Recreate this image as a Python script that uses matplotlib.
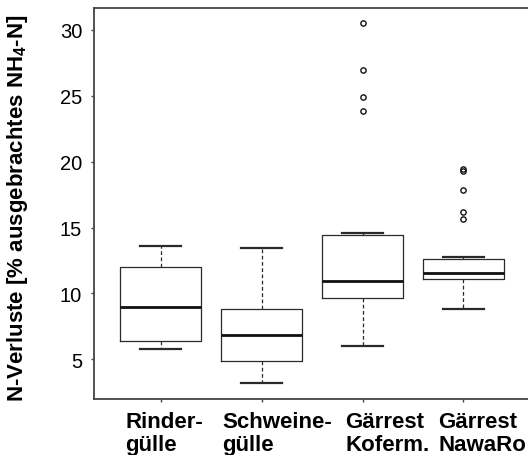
import numpy as np
import matplotlib
matplotlib.use("Agg")
import matplotlib.pyplot as plt

plt.rcParams['font.family'] = ['Liberation Sans', 'DejaVu Sans']
plt.rcParams['mathtext.fontset'] = 'custom'
plt.rcParams['mathtext.rm'] = 'Liberation Sans:bold'
plt.rcParams['mathtext.default'] = 'rm'

# Gruppen und Kennwerte der Boxplots (N-Verluste in % des NH4-N)
groups = ["Rinder-\ngülle", "Schweine-\ngülle", "Gärrest\nKoferm.", "Gärrest\nNawaRo"]
whisker_low = [5.76, 3.18, 6.02, 8.84]
q1 = [6.42, 4.90, 9.65, 11.09]
median = [8.99, 6.82, 10.94, 11.59]
q3 = [12.00, 8.82, 14.42, 12.65]
whisker_high = [13.61, 13.46, 14.62, 12.78]
outliers = [[], [], [23.82, 24.88, 26.95, 30.5], [15.66, 16.17, 17.86, 19.3, 19.45]]

# linke Kante der Achsenbeschriftung relativ zur Boxmitte
label_shift = [-0.348, -0.387, -0.169, -0.248]

stats = []
for i, name in enumerate(groups):
    stats.append(dict(label=name, whislo=whisker_low[i], q1=q1[i], med=median[i],
                      q3=q3[i], whishi=whisker_high[i], fliers=outliers[i]))

fig = plt.figure(figsize=(5.28, 4.56), dpi=100)
ax = fig.add_axes([0.178, 0.123, 0.826, 0.857])

pos = np.arange(1, len(groups) + 1)
line_col = '#2a2a2a'
ax.bxp(stats, positions=pos, widths=0.8, capwidths=0.4, showfliers=True,
       boxprops=dict(color=line_col, linewidth=0.9),
       medianprops=dict(color='#111111', linewidth=2.0),
       whiskerprops=dict(color=line_col, linewidth=0.9, linestyle=(0, (3, 2))),
       capprops=dict(color=line_col, linewidth=1.6),
       flierprops=dict(marker='o', markersize=3.8, markerfacecolor='none',
                       markeredgecolor='#111111', markeredgewidth=1.0))

ax.set_xlim(0.34, 4.66)
ax.set_ylim(2.0, 31.65)
ax.set_yticks([5, 10, 15, 20, 25, 30])
ax.set_xticks(pos)
ax.set_xticklabels([''] * len(groups))
ax.tick_params(axis='y', labelsize=14.5, length=2.5, width=1, color='#444444', pad=6)
ax.tick_params(axis='x', length=2, width=1, color='#444444')

for s in ax.spines.values():
    s.set_color('#444444')
    s.set_linewidth(1.3)

for i, name in enumerate(groups):
    ax.text(pos[i] + label_shift[i], -0.03, name, transform=ax.get_xaxis_transform(),
            ha='left', va='top', fontsize=16, fontweight='bold', linespacing=1.15)

ax.set_ylabel(r"N-Verluste [% ausgebrachtes NH$_4$-N]", fontsize=16, fontweight='bold')
ax.yaxis.set_label_coords(-0.147, 0.49)

fig.savefig("out.png", dpi=100)
